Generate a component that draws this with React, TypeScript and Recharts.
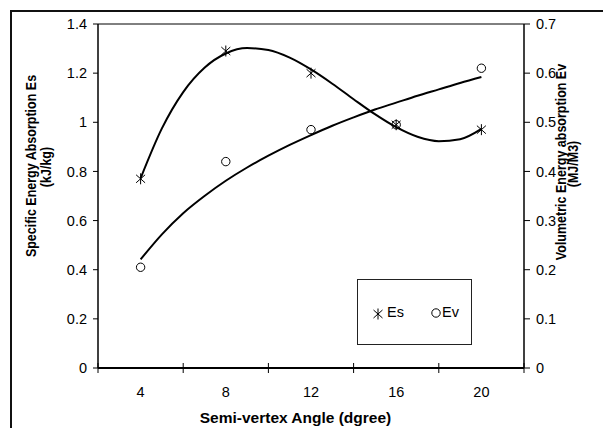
import React from 'react'
import { ComposedChart, Line, XAxis, YAxis, Legend, ReferenceLine } from 'recharts'

// semi-vertex angle categories (deg)
const angles = [4, 8, 12, 16, 20]
// measured specific energy absorption Es (kJ/kg), left axis
const esValues = [0.77, 1.29, 1.2, 0.99, 0.97]
// measured volumetric energy absorption Ev (MJ/M3), right axis
const evValues = [0.205, 0.42, 0.485, 0.495, 0.61]

// trend lines, one value per degree
const fitAngles = [4, 5, 6, 7, 8, 9, 10, 11, 12, 13, 14, 15, 16, 17, 18, 19, 20]
const esTrend = [0.772, 0.975, 1.123, 1.222, 1.28, 1.302, 1.294, 1.263, 1.215, 1.157, 1.094, 1.033, 0.98, 0.941, 0.923, 0.931, 0.973]
const evTrend = [0.221, 0.272, 0.315, 0.35, 0.381, 0.408, 0.432, 0.454, 0.474, 0.493, 0.51, 0.526, 0.54, 0.554, 0.567, 0.58, 0.592]

const xTicks = [2, 4, 6, 8, 10, 12, 14, 16, 18, 20, 22]
const leftTicks = [0, 0.2, 0.4, 0.6, 0.8, 1, 1.2, 1.4]
const rightTicks = [0, 0.1, 0.2, 0.3, 0.4, 0.5, 0.6, 0.7]

const data = fitAngles.map((x, i) => {
  const k = angles.indexOf(x)
  return {
    x,
    esFit: esTrend[i],
    evFit: evTrend[i],
    es: k >= 0 ? esValues[k] : null,
    ev: k >= 0 ? evValues[k] : null,
  }
})

const FONT = '"Liberation Sans", Arial, sans-serif'

function Asterisk({ cx, cy }: { cx: number; cy: number }) {
  return (
    <g stroke="#000" strokeWidth={1}>
      <line x1={cx} y1={cy - 5.5} x2={cx} y2={cy + 5.5} />
      <line x1={cx - 4.5} y1={cy - 4} x2={cx + 4.5} y2={cy + 4} />
      <line x1={cx - 4.5} y1={cy + 4} x2={cx + 4.5} y2={cy - 4} />
    </g>
  )
}

function Ring({ cx, cy }: { cx: number; cy: number }) {
  return <circle cx={cx} cy={cy} r={4.2} fill="none" stroke="#000" strokeWidth={1} />
}

const esDot = (p: any) =>
  p.value == null || p.cy == null ? <g key={p.key} /> : <Asterisk key={p.key} cx={p.cx} cy={p.cy} />
const evDot = (p: any) =>
  p.value == null || p.cy == null ? <g key={p.key} /> : <Ring key={p.key} cx={p.cx} cy={p.cy} />

// label on every 4th degree, tick mark on the category boundaries
const XTick = (p: any) => {
  const v = p.payload.value
  if (v % 4 === 0) {
    return (
      <text x={p.x} y={p.y + 29} textAnchor="middle" fontSize={14.5} fontFamily={FONT} fill="#000">
        {v}
      </text>
    )
  }
  return <line x1={p.x} y1={p.y - 5} x2={p.x} y2={p.y + 5} stroke="#000" strokeWidth={1} />
}

// rotated axis title, a little widened like the original export
const VTitle = ({ x, y, children }: { x: number; y: number; children: string }) => (
  <text
    x={0}
    y={0}
    textAnchor="middle"
    fontSize={12.5}
    fontWeight="bold"
    fontFamily={FONT}
    fill="#000"
    transform={`translate(${x} ${y}) scale(1.15 1) rotate(-90)`}
  >
    {children}
  </text>
)

const LegendBox = () => (
  <div
    style={{
      width: 113,
      height: 64,
      border: '1px solid #222',
      background: '#fff',
      position: 'relative',
      fontFamily: FONT,
      fontSize: 14,
    }}
  >
    <svg width={113} height={64} style={{ position: 'absolute', left: 0, top: 0 }}>
      <Asterisk cx={20} cy={34} />
      <text x={29} y={37} fontSize={14.5} fontFamily={FONT}>Es</text>
      <Ring cx={78} cy={33} />
      <text x={84} y={37} fontSize={14.5} fontFamily={FONT}>Ev</text>
    </svg>
  </div>
)

export default function App() {
  return (
    <div style={{ position: 'fixed', left: 0, top: 0, width: 603, height: 428, overflow: 'hidden', background: '#fff' }}>
      <div
        style={{
          position: 'absolute',
          left: 10,
          top: 10,
          width: 620,
          height: 440,
          borderLeft: '2px solid #111',
          borderTop: '2px solid #111',
        }}
      />
      <div style={{ position: 'absolute', left: 0, top: 0 }}>
        <ComposedChart width={603} height={428} data={data} margin={{ top: 24, right: 29, bottom: 30, left: 38 }}>
          <XAxis
            dataKey="x"
            type="number"
            domain={[2, 22]}
            ticks={xTicks}
            interval={0}
            tick={XTick}
            tickLine={false}
            tickSize={0}
            tickMargin={0}
            height={30}
            axisLine={{ stroke: '#000', strokeWidth: 2 }}
            label={{
              content: () => (
                <text x={295.5} y={423} textAnchor="middle" fontSize={15.5} fontWeight="bold" fontFamily={FONT} fill="#000">
                  Semi-vertex Angle (dgree)
                </text>
              ),
            }}
          />
          <YAxis
            yAxisId="left"
            orientation="left"
            domain={[0, 1.4]}
            ticks={leftTicks}
            width={60}
            tickSize={5}
            tickMargin={6}
            tick={{ fontSize: 14.5, fill: '#000', fontFamily: FONT }}
            tickLine={{ stroke: '#000' }}
            axisLine={{ stroke: '#000', strokeWidth: 1.5 }}
            label={{
              content: () => (
                <g>
                  <VTitle x={35.5} y={166}>Specific Energy Absorption Es</VTitle>
                  <VTitle x={51} y={167}>(kJ/kg)</VTitle>
                </g>
              ),
            }}
          />
          <YAxis
            yAxisId="right"
            orientation="right"
            domain={[0, 0.7]}
            ticks={rightTicks}
            width={50}
            tickSize={6}
            tickMargin={6}
            tick={{ fontSize: 14.5, fill: '#000', fontFamily: FONT }}
            tickLine={{ stroke: '#000' }}
            axisLine={{ stroke: '#000', strokeWidth: 1.5 }}
            label={{
              content: () => (
                <g>
                  <VTitle x={565.5} y={162}>Volumetric Energy absorption Ev</VTitle>
                  <VTitle x={578} y={164}>(MJ/M3)</VTitle>
                </g>
              ),
            }}
          />
          <ReferenceLine yAxisId="left" y={1.4} stroke="#000" strokeWidth={1} />
          <Line yAxisId="left" dataKey="esFit" type="monotone" stroke="#000" strokeWidth={2} dot={false} activeDot={false} isAnimationActive={false} legendType="none" />
          <Line yAxisId="right" dataKey="evFit" type="monotone" stroke="#000" strokeWidth={2} dot={false} activeDot={false} isAnimationActive={false} legendType="none" />
          <Line yAxisId="left" dataKey="es" name="Es" stroke="none" dot={esDot} activeDot={false} isAnimationActive={false} />
          <Line yAxisId="right" dataKey="ev" name="Ev" stroke="none" dot={evDot} activeDot={false} isAnimationActive={false} />
          <Legend
            layout="horizontal"
            verticalAlign="middle"
            align="center"
            content={LegendBox}
            wrapperStyle={{ left: 357, top: 279, width: 115, height: 66 }}
          />
        </ComposedChart>
      </div>
    </div>
  )
}
